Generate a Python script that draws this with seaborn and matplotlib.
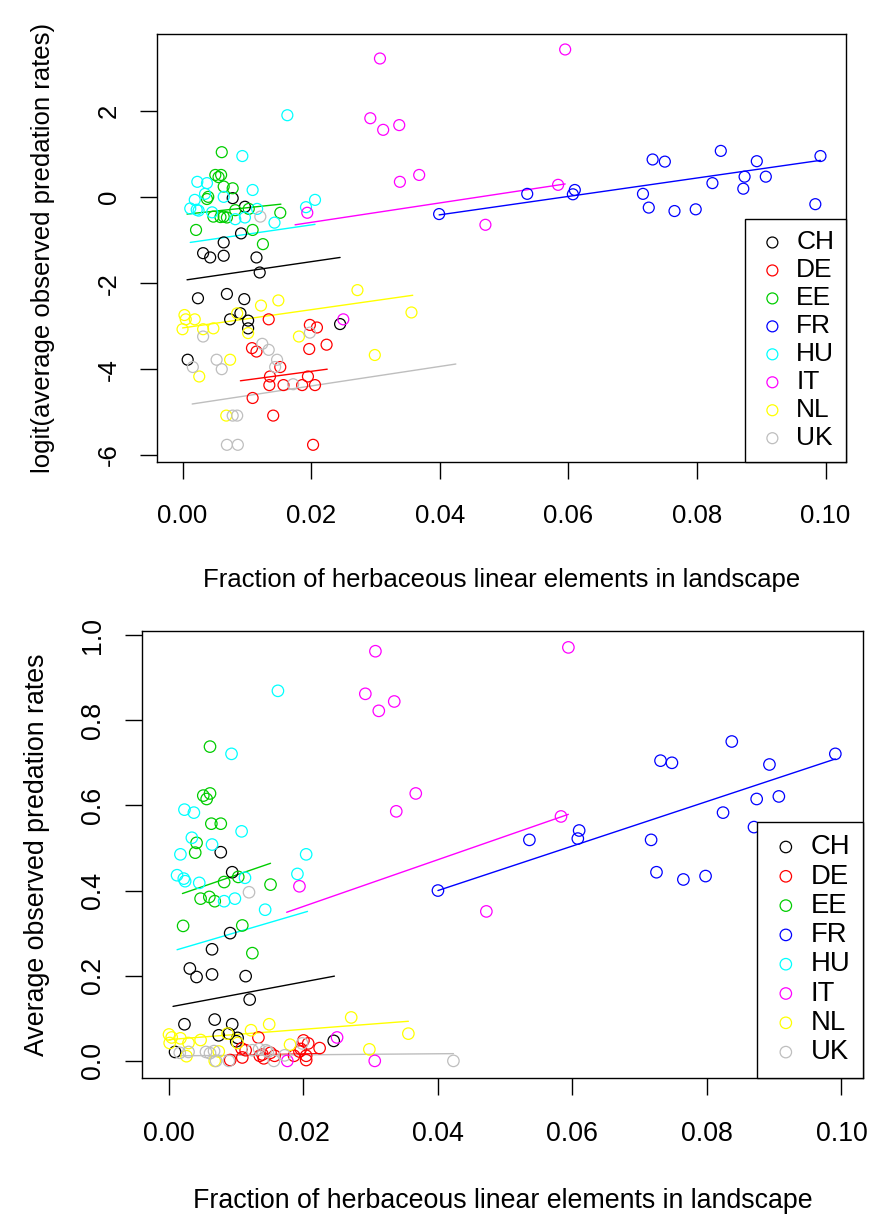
import matplotlib
matplotlib.use("Agg")
import matplotlib.pyplot as plt
import seaborn as sns

# ---------------- data ----------------
countries = ["CH", "DE", "EE", "FR", "HU", "IT", "NL", "UK"]
colors = ["#000000", "#FF0000", "#00CD00", "#0000FF", "#00FFFF", "#FF00FF", "#FFFF00", "#BEBEBE"]

x_ticks = [0.00, 0.02, 0.04, 0.06, 0.08, 0.10]
x_tick_labels = ["0.00", "0.02", "0.04", "0.06", "0.08", "0.10"]
top_y_ticks = [-6, -4, -2, 0, 2]
bot_y_ticks = [0.0, 0.2, 0.4, 0.6, 0.8, 1.0]
bot_y_tick_labels = ["0.0", "0.2", "0.4", "0.6", "0.8", "1.0"]

# top panel: logit(average observed predation rates)
ch_top_x = [0.0078, 0.0097, 0.0091, 0.0064, 0.0032, 0.0043, 0.0064, 0.0115, 0.0120, 0.0024, 0.0069, 0.0096, 0.0074, 0.0090, 0.0102, 0.0102, 0.0245, 0.0008]
ch_top_y = [-0.02, -0.22, -0.84, -1.05, -1.30, -1.40, -1.36, -1.40, -1.75, -2.35, -2.25, -2.37, -2.84, -2.70, -2.87, -3.05, -2.95, -3.78]
de_top_x = [0.0134, 0.0198, 0.0209, 0.0224, 0.0197, 0.0108, 0.0115, 0.0152, 0.0136, 0.0135, 0.0157, 0.0186, 0.0206, 0.0195, 0.0109, 0.0141, 0.0203]
de_top_y = [-2.84, -2.97, -3.03, -3.43, -3.53, -3.51, -3.59, -3.95, -4.17, -4.37, -4.37, -4.37, -4.37, -4.17, -4.67, -5.08, -5.76]
ee_top_x = [0.0061, 0.0051, 0.0060, 0.0056, 0.0064, 0.0078, 0.0040, 0.0038, 0.0048, 0.0064, 0.0069, 0.0059, 0.0082, 0.0103, 0.0152, 0.0021, 0.0109, 0.0125]
ee_top_y = [1.05, 0.52, 0.52, 0.47, 0.25, 0.21, 0.01, -0.04, -0.45, -0.45, -0.47, -0.46, -0.30, -0.27, -0.36, -0.76, -0.76, -1.09]
fr_top_x = [0.0399, 0.0536, 0.0610, 0.0607, 0.0716, 0.0725, 0.0731, 0.0750, 0.0765, 0.0798, 0.0837, 0.0824, 0.0874, 0.0872, 0.0893, 0.0907, 0.0992, 0.0984]
fr_top_y = [-0.39, 0.08, 0.17, 0.07, 0.08, -0.24, 0.88, 0.83, -0.32, -0.28, 1.08, 0.33, 0.48, 0.20, 0.84, 0.48, 0.96, -0.16]
hu_top_x = [0.0163, 0.0093, 0.0023, 0.0038, 0.0109, 0.0035, 0.0064, 0.0206, 0.0019, 0.0012, 0.0022, 0.0025, 0.0116, 0.0046, 0.0097, 0.0082, 0.0143, 0.0192]
hu_top_y = [1.91, 0.96, 0.36, 0.33, 0.17, 0.08, 0.01, -0.06, -0.06, -0.26, -0.29, -0.31, -0.27, -0.35, -0.47, -0.51, -0.59, -0.23]
it_top_x = [0.0292, 0.0307, 0.0312, 0.0337, 0.0338, 0.0368, 0.0595, 0.0584, 0.0471, 0.0194, 0.0250]
it_top_y = [1.84, 3.23, 1.57, 1.68, 0.36, 0.52, 3.44, 0.29, -0.64, -0.36, -2.84]
nl_top_x = [0.0122, 0.0149, 0.0272, 0.0003, 0.0005, 0.0019, 0.0085, 0.0000, 0.0032, 0.0048, 0.0102, 0.0181, 0.0074, 0.0026, 0.0068, 0.0356, 0.0299]
nl_top_y = [-2.52, -2.40, -2.16, -2.74, -2.84, -2.84, -2.70, -3.07, -3.07, -3.05, -3.16, -3.24, -3.78, -4.17, -5.08, -2.68, -3.67]
uk_top_x = [0.0121, 0.0032, 0.0198, 0.0124, 0.0134, 0.0016, 0.0053, 0.0061, 0.0147, 0.0144, 0.0172, 0.0078, 0.0085, 0.0069, 0.0086]
uk_top_y = [-0.45, -3.24, -3.15, -3.41, -3.55, -3.95, -3.78, -4.00, -3.78, -3.95, -4.35, -5.08, -5.08, -5.76, -5.76]

# fitted lines, top panel (start / end)
top_fit_x0 = [0.0007, 0.0090, 0.0007, 0.0399, 0.0012, 0.0175, 0.0000, 0.0015]
top_fit_x1 = [0.0245, 0.0225, 0.0153, 0.0992, 0.0206, 0.0595, 0.0358, 0.0425]
top_fit_y0 = [-1.92, -4.27, -0.39, -0.41, -1.05, -0.64, -3.04, -4.81]
top_fit_y1 = [-1.40, -4.00, -0.16, 0.86, -0.63, 0.31, -2.28, -3.88]

# bottom panel: average observed predation rates
ch_bot_x = [0.0077, 0.0094, 0.0091, 0.0064, 0.0031, 0.0041, 0.0064, 0.0114, 0.0120, 0.0023, 0.0068, 0.0094, 0.0074, 0.0089, 0.0100, 0.0102, 0.0245, 0.0009]
ch_bot_y = [0.490, 0.443, 0.300, 0.262, 0.217, 0.197, 0.203, 0.199, 0.144, 0.086, 0.097, 0.086, 0.060, 0.064, 0.046, 0.054, 0.047, 0.021]
de_bot_x = [0.0133, 0.0200, 0.0207, 0.0224, 0.0196, 0.0108, 0.0114, 0.0151, 0.0139, 0.0135, 0.0157, 0.0186, 0.0204, 0.0194, 0.0109, 0.0141, 0.0204, 0.0091]
de_bot_y = [0.055, 0.048, 0.041, 0.030, 0.028, 0.029, 0.025, 0.019, 0.015, 0.012, 0.012, 0.012, 0.012, 0.022, 0.008, 0.006, 0.002, 0.002]
ee_bot_x = [0.0061, 0.0051, 0.0061, 0.0056, 0.0063, 0.0077, 0.0041, 0.0039, 0.0082, 0.0103, 0.0151, 0.0047, 0.0060, 0.0068, 0.0021, 0.0109, 0.0124]
ee_bot_y = [0.738, 0.623, 0.628, 0.615, 0.557, 0.557, 0.512, 0.489, 0.420, 0.432, 0.414, 0.381, 0.385, 0.375, 0.317, 0.318, 0.253]
fr_bot_x = [0.0400, 0.0536, 0.0610, 0.0608, 0.0717, 0.0725, 0.0731, 0.0748, 0.0765, 0.0798, 0.0837, 0.0824, 0.0874, 0.0870, 0.0893, 0.0907, 0.0991, 0.0984]
fr_bot_y = [0.400, 0.519, 0.541, 0.522, 0.519, 0.443, 0.705, 0.700, 0.426, 0.434, 0.750, 0.583, 0.615, 0.549, 0.696, 0.621, 0.721, 0.460]
hu_bot_x = [0.0162, 0.0093, 0.0023, 0.0037, 0.0108, 0.0034, 0.0064, 0.0204, 0.0017, 0.0012, 0.0022, 0.0024, 0.0113, 0.0045, 0.0098, 0.0082, 0.0143, 0.0191]
hu_bot_y = [0.869, 0.721, 0.590, 0.583, 0.539, 0.524, 0.508, 0.485, 0.485, 0.436, 0.428, 0.422, 0.430, 0.418, 0.381, 0.375, 0.355, 0.439]
it_bot_x = [0.0292, 0.0307, 0.0312, 0.0335, 0.0338, 0.0367, 0.0594, 0.0583, 0.0472, 0.0194, 0.0250, 0.0306, 0.0176]
it_bot_y = [0.862, 0.962, 0.822, 0.844, 0.586, 0.628, 0.971, 0.574, 0.351, 0.410, 0.055, 0.000, 0.000]
nl_bot_x = [0.0122, 0.0149, 0.0271, 0.0000, 0.0004, 0.0017, 0.0087, 0.0001, 0.0029, 0.0047, 0.0102, 0.0180, 0.0074, 0.0026, 0.0068, 0.0356, 0.0298]
nl_bot_y = [0.072, 0.086, 0.102, 0.062, 0.055, 0.053, 0.064, 0.042, 0.042, 0.049, 0.042, 0.038, 0.022, 0.011, 0.000, 0.064, 0.027]
uk_bot_x = [0.0119, 0.0029, 0.0198, 0.0124, 0.0144, 0.0016, 0.0055, 0.0067, 0.0147, 0.0172, 0.0070, 0.0089, 0.0156, 0.0423, 0.0061, 0.0134]
uk_bot_y = [0.396, 0.021, 0.041, 0.025, 0.025, 0.019, 0.021, 0.023, 0.022, 0.013, 0.000, 0.000, 0.000, 0.000, 0.018, 0.028]

bot_fit_x0 = [0.0006, 0.0087, 0.0020, 0.0400, 0.0012, 0.0175, 0.0000, 0.0015]
bot_fit_x1 = [0.0246, 0.0226, 0.0151, 0.0991, 0.0206, 0.0594, 0.0356, 0.0423]
bot_fit_y0 = [0.128, 0.013, 0.393, 0.400, 0.261, 0.349, 0.050, 0.012]
bot_fit_y1 = [0.199, 0.017, 0.464, 0.709, 0.351, 0.579, 0.093, 0.017]

top_points = [(ch_top_x, ch_top_y), (de_top_x, de_top_y), (ee_top_x, ee_top_y), (fr_top_x, fr_top_y),
              (hu_top_x, hu_top_y), (it_top_x, it_top_y), (nl_top_x, nl_top_y), (uk_top_x, uk_top_y)]
bot_points = [(ch_bot_x, ch_bot_y), (de_bot_x, de_bot_y), (ee_bot_x, ee_bot_y), (fr_bot_x, fr_bot_y),
              (hu_bot_x, hu_bot_y), (it_bot_x, it_bot_y), (nl_bot_x, nl_bot_y), (uk_bot_x, uk_bot_y)]

x_label = "Fraction of herbaceous linear elements in landscape"
top_y_label = "logit(average observed predation rates)"
bot_y_label = "Average observed predation rates"

# ---------------- style ----------------
sns.set_style("ticks")
plt.rcParams["font.family"] = ["Liberation Sans", "DejaVu Sans"]
plt.rcParams["axes.linewidth"] = 1.0
plt.rcParams["text.color"] = "black"
plt.rcParams["axes.labelcolor"] = "black"
plt.rcParams["xtick.color"] = "black"
plt.rcParams["ytick.color"] = "black"
plt.rcParams["xtick.labelcolor"] = "black"
plt.rcParams["ytick.labelcolor"] = "black"
plt.rcParams["axes.edgecolor"] = "black"

fig = plt.figure(figsize=(8.72, 12.18), dpi=100)
ax1 = fig.add_axes([157 / 872, 1 - 462 / 1218, (846 - 157) / 872, (462 - 34) / 1218])
ax2 = fig.add_axes([142.3 / 872, 1 - 1077.7 / 1218, (862.7 - 142.3) / 872, (1077.7 - 631) / 1218])


def draw(ax, points, fx0, fx1, fy0, fy1, fs, msize, ylim, yticks, yticklabels, ylabel,
         xlabelpad, ylabelpad, xtpad, ytpad, lspace):
    for (xs, ys), c, name in zip(points, colors, countries):
        sns.scatterplot(x=xs, y=ys, ax=ax, marker="o", s=msize, facecolors="none",
                        edgecolor=c, linewidth=0.9, label=name, zorder=3)
    for i, c in enumerate(colors):
        sns.lineplot(x=[fx0[i], fx1[i]], y=[fy0[i], fy1[i]], ax=ax, color=c,
                     linewidth=1.0, legend=False, zorder=2)
    ax.set_xlim(-0.00397, 0.10317)
    ax.set_ylim(*ylim)
    ax.set_xticks(x_ticks)
    ax.set_xticklabels(x_tick_labels, fontsize=fs)
    ax.set_yticks(yticks)
    ax.set_yticklabels(yticklabels, fontsize=fs, rotation=90, va="center")
    ax.tick_params(axis="both", direction="out", length=12, width=1.0, color="black",
                   labelcolor="black")
    ax.tick_params(axis="x", pad=xtpad)
    ax.tick_params(axis="y", pad=ytpad)
    ax.set_xlabel(x_label, fontsize=fs, labelpad=xlabelpad, color="black")
    ax.set_ylabel(ylabel, fontsize=fs, labelpad=ylabelpad, color="black")
    for sp in ax.spines.values():
        sp.set_visible(True)
        sp.set_color("black")
        sp.set_linewidth(1.0)
    leg = ax.legend(loc="lower right", borderaxespad=0, fontsize=fs + 0.5, frameon=True,
                    fancybox=False, edgecolor="black", framealpha=1, handletextpad=0.3,
                    labelspacing=lspace, borderpad=0.45, handlelength=1.2, markerscale=1.0)
    leg.get_frame().set_linewidth(1.0)
    for t in leg.get_texts():
        t.set_color("black")
    leg.set_zorder(10)


draw(ax1, top_points, top_fit_x0, top_fit_x1, top_fit_y0, top_fit_y1, 18.5, 62,
     (-6.16, 3.80), top_y_ticks, [str(v) for v in top_y_ticks], top_y_label, 29, 30, 18, 14, 0.15)
draw(ax2, bot_points, bot_fit_x0, bot_fit_x1, bot_fit_y0, bot_fit_y1, 19.3, 68,
     (-0.0395, 1.0095), bot_y_ticks, bot_y_tick_labels, bot_y_label, 30, 22, 19, 14, 0.12)

fig.savefig("out.png", dpi=100)
